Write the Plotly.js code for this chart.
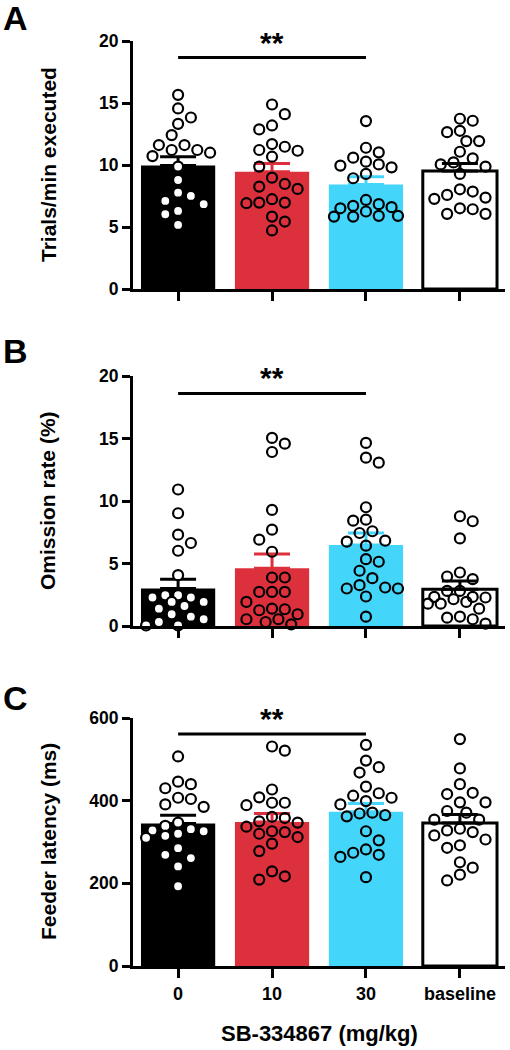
<!DOCTYPE html>
<html>
<head>
<meta charset="utf-8">
<script src="https://cdn.plot.ly/plotly-3.0.1.min.js"></script>
<style>
  html, body { margin: 0; padding: 0; background: #fff; }
  #chart { width: 510px; height: 1050px; }
</style>
</head>
<body>
<div id="chart"></div>
<script>
// ---------------- DATA ----------------
const categories = ['0', '10', '30', 'baseline'];
const xTitle = 'SB-334867 (mg/kg)';

// Panel A: Trials/min executed
const trialsMean = [9.95, 9.46, 8.42, 9.52];
const trialsSem  = [0.72, 0.67, 0.64, 0.61];
const trials0    = [15.66, 14.56, 13.83, 13.32, 12.41, 11.61, 11.61, 11.21, 10.99, 11.21, 10.72, 9.87, 8.79, 6.84, 6.30, 7.10, 7.77, 7.51, 6.03, 5.17];
const trials10   = [14.88, 14.10, 12.87, 13.19, 11.69, 11.47, 11.15, 11.21, 10.67, 9.87, 8.47, 8.26, 8.98, 8.07, 7.24, 6.97, 6.92, 6.97, 5.84, 5.44, 4.72];
const trials30   = [13.54, 11.39, 11.02, 10.59, 10.05, 9.95, 10.27, 9.81, 9.28, 8.93, 7.18, 6.84, 6.60, 6.70, 6.25, 5.90, 5.90, 6.51, 5.84, 5.84];
const trialsBase = [13.57, 13.73, 12.65, 12.76, 11.93, 11.93, 11.07, 10.54, 10.05, 10.21, 9.28, 9.87, 8.04, 7.86, 7.59, 7.27, 7.37, 6.51, 6.43, 6.06, 6.06];

// Panel B: Omission rate (%)
const omissionMean = [3.00, 4.63, 6.48, 2.95];
const omissionSem  = [0.75, 1.13, 0.96, 0.66];
const omission0    = [10.92, 9.02, 7.31, 6.64, 6.02, 4.07, 2.46, 2.28, 1.93, 2.46, 1.93, 2.28, 1.39, 0.94, 1.60, 0.75, 0.54, 0.32, 0.05, 0.05];
const omission10   = [15.05, 14.59, 13.92, 9.29, 7.71, 6.91, 5.94, 3.88, 3.88, 2.73, 2.73, 2.73, 1.93, 1.26, 1.39, 1.34, 0.94, 0.54, 0.54, 0.32, 0.13];
const omission30   = [14.65, 13.47, 13.07, 9.50, 8.51, 8.43, 7.44, 7.58, 6.75, 6.43, 6.83, 5.35, 5.14, 4.42, 3.83, 3.27, 3.08, 3.00, 3.00, 2.36, 0.75];
const omissionBase = [8.78, 8.38, 7.01, 4.28, 3.96, 3.75, 2.81, 2.81, 2.33, 2.33, 2.14, 2.28, 1.93, 1.79, 1.79, 1.39, 0.75, 0.67, 0.54, 0.19];

// Panel C: Feeder latency (ms)
const latencyMean = [344.6, 348.6, 373.0, 346.0];
const latencySem  = [20.3, 20.4, 20.0, 20.5];
const latency0    = [507, 446, 430, 440, 407, 404, 385, 391, 339, 328, 326, 331, 347, 310, 320, 315, 285, 269, 261, 241, 193];
const latency10   = [531, 521, 427, 408, 395, 395, 389, 361, 358, 350, 347, 337, 326, 324, 320, 312, 296, 278, 229, 217, 209];
const latency30   = [535, 497, 481, 468, 434, 418, 407, 412, 399, 391, 369, 365, 371, 362, 326, 304, 282, 274, 269, 264, 215];
const latencyBase = [549, 478, 440, 419, 416, 396, 396, 375, 371, 354, 354, 324, 328, 332, 316, 306, 292, 286, 251, 238, 221, 207];

// significance bars: [from category index, to category index, label]
const sigPair = [0, 2];
const sigLabel = '**';

// ---------------- LAYOUT HELPERS ----------------
const W = 510, H = 1050;
const FONT = 'Liberation Sans, Arial, Helvetica, sans-serif';
const X0 = 133, X1 = 505;              // plot area px (horizontal)
const xRange = [-0.48, 3.48];
const panels = [
  { id: '',  top: 41,  bottom: 289, range: [0, 20],  tickvals: [0, 5, 10, 15, 20], mean: trialsMean, sem: trialsSem,
    groups: [trials0, trials10, trials30, trialsBase], title: 'Trials/min executed', letter: 'A', sigY: 18.66, starY: 19.9, letterY: 18 },
  { id: '2', top: 376, bottom: 626, range: [0, 20],  tickvals: [0, 5, 10, 15, 20], mean: omissionMean, sem: omissionSem,
    groups: [omission0, omission10, omission30, omissionBase], title: 'Omission rate (%)', letter: 'B', sigY: 18.6, starY: 19.85, letterY: 351 },
  { id: '3', top: 718, bottom: 966, range: [0, 600], tickvals: [0, 200, 400, 600], mean: latencyMean, sem: latencySem,
    groups: [latency0, latency10, latency30, latencyBase], title: 'Feeder latency (ms)', letter: 'C', sigY: 561, starY: 600, letterY: 698 }
];

const barColors = ['#000000', '#DC313C', '#44D5FB', '#FFFFFF'];
const errColors = ['#000000', '#DC313C', '#44D5FB', '#000000'];
const markerFill = ['#FFFFFF', 'rgba(0,0,0,0)', 'rgba(0,0,0,0)', 'rgba(0,0,0,0)'];

const pxPerX = (X1 - X0) / (xRange[1] - xRange[0]);

// simple beeswarm in pixel space, computed from the values (spread limited to about the bar width)
function swarm(values, pxPerY) {
  const step = 6.4, d = 12, maxM = 5;
  const order = values.map((v, i) => i).sort((a, b) => values[b] - values[a]);
  const placed = [];
  const offs = new Array(values.length).fill(0);
  let flip = 1;
  order.forEach(i => {
    const y = values[i] * pxPerY;
    let best = null, bestD = -1, bestM = 0;
    for (let k = 0; k <= 2 * maxM; k++) {
      const m = Math.ceil(k / 2) * (k % 2 === 1 ? flip : -flip);
      const x = m * step;
      let minD = Infinity;
      placed.forEach(p => { minD = Math.min(minD, Math.hypot(p.x - x, p.y - y)); });
      if (minD >= d) { best = x; bestM = m; bestD = minD; break; }
      if (minD > bestD) { bestD = minD; best = x; bestM = m; }
    }
    placed.push({ x: best, y });
    offs[i] = best / pxPerX;
    if (bestM !== 0) flip = -flip;
  });
  return offs;
}

const traces = [];
const shapes = [];
const annotations = [];
const layout = {
  width: W, height: H,
  margin: { l: 0, r: 0, t: 0, b: 0 },
  paper_bgcolor: '#fff', plot_bgcolor: 'rgba(0,0,0,0)',
  showlegend: false, barmode: 'overlay',
  font: { family: FONT, color: '#000' },
  shapes, annotations
};

panels.forEach((p, pi) => {
  const xa = 'x' + p.id, ya = 'y' + p.id;
  const pxPerY = (p.bottom - p.top) / (p.range[1] - p.range[0]);
  // bars
  categories.forEach((c, ci) => {
    traces.push({
      type: 'bar', x: [ci], y: [p.mean[ci]], xaxis: xa, yaxis: ya, width: 0.79,
      marker: { color: barColors[ci], line: { color: '#000', width: ci === 3 ? 3 : 0 } },
      error_y: { type: 'data', symmetric: false, array: [p.sem[ci]], arrayminus: [0],
                 color: errColors[ci], thickness: 3, width: 18 },
      hoverinfo: 'skip'
    });
  });
  // points
  p.groups.forEach((vals, ci) => {
    const offs = swarm(vals, pxPerY);
    traces.push({
      type: 'scatter', mode: 'markers', xaxis: xa, yaxis: ya, cliponaxis: false,
      x: vals.map((v, i) => ci + offs[i]), y: vals,
      marker: { size: 10, color: markerFill[ci], line: { color: '#000', width: 2.2 } },
      hoverinfo: 'skip'
    });
  });
  const xKey = 'xaxis' + p.id, yKey = 'yaxis' + p.id;
  layout[xKey] = {
    domain: [X0 / W, X1 / W], range: xRange, anchor: ya,
    showline: true, linewidth: 3, linecolor: '#000', mirror: false,
    ticks: 'outside', ticklen: 9, tickwidth: 3, tickcolor: '#000',
    tickvals: [0, 1, 2, 3], ticktext: categories,
    showticklabels: pi === 2, tickfont: { size: 18, weight: 'bold', family: FONT, color: '#000' },
    showgrid: false, zeroline: false, fixedrange: true
  };
  layout[yKey] = {
    domain: [1 - p.bottom / H, 1 - p.top / H], range: p.range, anchor: xa,
    showline: true, linewidth: 3, linecolor: '#000',
    ticks: 'outside', ticklen: 8, tickwidth: 3, tickcolor: '#000',
    tickvals: p.tickvals, tickfont: { size: 17.5, weight: 'bold', family: FONT, color: '#000' },
    showgrid: false, zeroline: false, fixedrange: true
  };
  // significance bar
  shapes.push({ type: 'line', xref: xa, yref: ya, x0: sigPair[0], x1: sigPair[1], y0: p.sigY, y1: p.sigY,
                line: { color: '#000', width: 3 } });
  annotations.push({ xref: xa, yref: ya, x: (sigPair[0] + sigPair[1]) / 2, y: p.starY, text: '<b>' + sigLabel + '</b>',
                     showarrow: false, font: { size: 30, family: FONT, color: '#000' }, xanchor: 'center', yanchor: 'middle' });
  // panel letter
  annotations.push({ xref: 'paper', yref: 'paper', x: 15 / W, y: 1 - p.letterY / H, text: '<b>' + p.letter + '</b>',
                     showarrow: false, font: { size: 34, family: FONT, color: '#000' }, xanchor: 'center', yanchor: 'middle' });
  // y title
  annotations.push({ xref: 'paper', yref: 'paper', x: 48 / W, y: 1 - (p.top + p.bottom) / 2 / H, text: '<b>' + p.title + '</b>',
                     textangle: -90, showarrow: false, font: { size: 21, family: FONT, color: '#000' }, xanchor: 'center', yanchor: 'middle' });
});

annotations.push({ xref: 'paper', yref: 'paper', x: (X0 + X1) / 2 / W, y: 1 - 1033 / H, text: '<b>' + xTitle + '</b>',
                   showarrow: false, font: { size: 22, family: FONT, color: '#000' }, xanchor: 'center', yanchor: 'middle' });

Plotly.newPlot('chart', traces, layout, { staticPlot: true, displayModeBar: false });
</script>
</body>
</html>
